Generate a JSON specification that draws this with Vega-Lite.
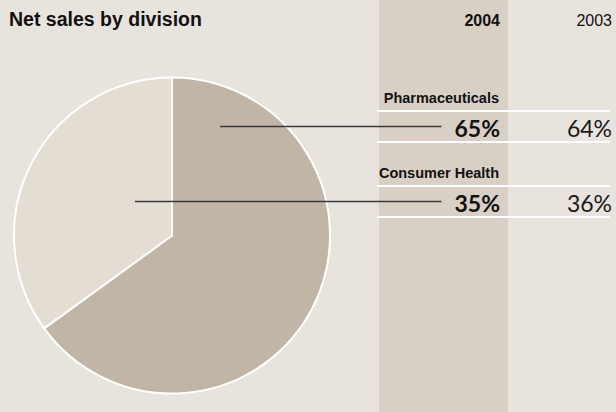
{
  "$schema": "https://vega.github.io/schema/vega-lite/v6.json",
  "width": 616,
  "height": 412,
  "autosize": {"type": "none"},
  "padding": 0,
  "background": "#e9e3de",
  "config": {"view": {"stroke": null}},
  "data": {
    "values": [
      {"division": "Pharmaceuticals", "year": "2004", "share": 0.65},
      {"division": "Pharmaceuticals", "year": "2003", "share": 0.64},
      {"division": "Consumer Health", "year": "2004", "share": 0.35},
      {"division": "Consumer Health", "year": "2003", "share": 0.36}
    ]
  },
  "layer": [
    {
      "transform": [{"filter": "datum.year === '2004'"}, {"aggregate": [{"op": "count", "as": "n"}], "groupby": ["year"]}],
      "mark": {"type": "rule", "strokeWidth": 129, "color": "#d8d0c5", "xOffset": -56.5},
      "encoding": {
        "x": {"field": "year", "type": "nominal", "axis": null,
              "scale": {"type": "point", "domain": ["2004", "2003"], "range": [500, 612], "padding": 0}}
      }
    },
    {
      "transform": [{"filter": "datum.year === '2004'"}],
      "mark": {"type": "arc", "outerRadius": 158, "x": 172, "y": 235.5, "stroke": "#ffffff", "strokeWidth": 2},
      "encoding": {
        "theta": {"field": "share", "type": "quantitative", "stack": true},
        "order": {"field": "share", "sort": "descending"},
        "color": {"field": "division", "type": "nominal", "legend": null,
                  "scale": {"domain": ["Pharmaceuticals", "Consumer Health"], "range": ["#c0b5a6", "#e3ddd4"]}}
      }
    },
    {
      "transform": [{"filter": "datum.year === '2004'"}],
      "mark": {"type": "rule", "color": "#ffffff", "strokeWidth": 2, "yOffset": -15.5, "xOffset": -123, "x2Offset": -2},
      "encoding": {
        "y": {"field": "division", "type": "nominal", "axis": null,
              "scale": {"type": "point", "domain": ["header", "Pharmaceuticals", "Consumer Health"], "range": [51.5, 201.5], "padding": 0}},
        "x": {"datum": "2004", "type": "nominal"},
        "x2": {"datum": "2003"}
      }
    },
    {
      "transform": [{"filter": "datum.year === '2004'"}],
      "mark": {"type": "rule", "color": "#ffffff", "strokeWidth": 2, "yOffset": 15.5, "xOffset": -123, "x2Offset": -2},
      "encoding": {
        "y": {"field": "division", "type": "nominal"},
        "x": {"datum": "2004", "type": "nominal"},
        "x2": {"datum": "2003"}
      }
    },
    {
      "transform": [{"filter": "datum.year === '2004' && datum.division === 'Pharmaceuticals'"}],
      "mark": {"type": "rule", "color": "#3a3a3a", "strokeWidth": 1.3, "xOffset": -280, "x2Offset": -58.5},
      "encoding": {
        "y": {"field": "division", "type": "nominal"},
        "x": {"datum": "2004", "type": "nominal"},
        "x2": {"datum": "2004"}
      }
    },
    {
      "transform": [{"filter": "datum.year === '2004' && datum.division === 'Consumer Health'"}],
      "mark": {"type": "rule", "color": "#3a3a3a", "strokeWidth": 1.3, "xOffset": -365, "x2Offset": -58.5},
      "encoding": {
        "y": {"field": "division", "type": "nominal"},
        "x": {"datum": "2004", "type": "nominal"},
        "x2": {"datum": "2004"}
      }
    },
    {
      "transform": [{"filter": "datum.year === '2004'"}],
      "mark": {"type": "text", "align": "right", "baseline": "alphabetic", "yOffset": -23.5, "xOffset": -1,
               "font": "Liberation Sans", "fontSize": 14.5, "fontWeight": "bold", "color": "#111111"},
      "encoding": {
        "y": {"field": "division", "type": "nominal"},
        "x": {"field": "year", "type": "nominal"},
        "text": {"field": "division"}
      }
    },
    {
      "transform": [{"filter": "datum.year === '2004'"}],
      "mark": {"type": "text", "align": "right", "baseline": "alphabetic", "yOffset": 10,
               "font": "Lato", "fontSize": 23, "fontWeight": "bold", "color": "#111111"},
      "encoding": {
        "y": {"field": "division", "type": "nominal"},
        "x": {"field": "year", "type": "nominal"},
        "text": {"field": "share", "type": "quantitative", "format": ".0%"}
      }
    },
    {
      "transform": [{"filter": "datum.year === '2003'"}],
      "mark": {"type": "text", "align": "right", "baseline": "alphabetic", "yOffset": 10,
               "font": "Lato", "fontSize": 23, "fontWeight": "normal", "color": "#1a1a1a"},
      "encoding": {
        "y": {"field": "division", "type": "nominal"},
        "x": {"field": "year", "type": "nominal"},
        "text": {"field": "share", "type": "quantitative", "format": ".0%"}
      }
    },
    {
      "transform": [{"filter": "datum.year === '2004'"}, {"aggregate": [{"op": "count", "as": "n"}], "groupby": ["year"]}],
      "mark": {"type": "text", "align": "right", "baseline": "alphabetic", "yOffset": -25.5,
               "font": "Liberation Sans", "fontSize": 16, "fontWeight": "bold", "color": "#111111"},
      "encoding": {
        "y": {"datum": "header", "type": "nominal"},
        "x": {"field": "year", "type": "nominal"},
        "text": {"field": "year"}
      }
    },
    {
      "transform": [{"filter": "datum.year === '2003'"}, {"aggregate": [{"op": "count", "as": "n"}], "groupby": ["year"]}],
      "mark": {"type": "text", "align": "right", "baseline": "alphabetic", "yOffset": -25.5,
               "font": "Liberation Sans", "fontSize": 16, "fontWeight": "normal", "color": "#111111"},
      "encoding": {
        "y": {"datum": "header", "type": "nominal"},
        "x": {"field": "year", "type": "nominal"},
        "text": {"field": "year"}
      }
    },
    {
      "data": {"values": [{"title": "Net sales by division"}]},
      "mark": {"type": "text", "align": "left", "baseline": "alphabetic", "yOffset": -25.5, "xOffset": -491,
               "font": "Liberation Sans", "fontSize": 19.5, "fontWeight": "bold", "color": "#111111"},
      "encoding": {
        "y": {"datum": "header", "type": "nominal"},
        "x": {"datum": "2004", "type": "nominal"},
        "text": {"field": "title"}
      }
    }
  ]
}
